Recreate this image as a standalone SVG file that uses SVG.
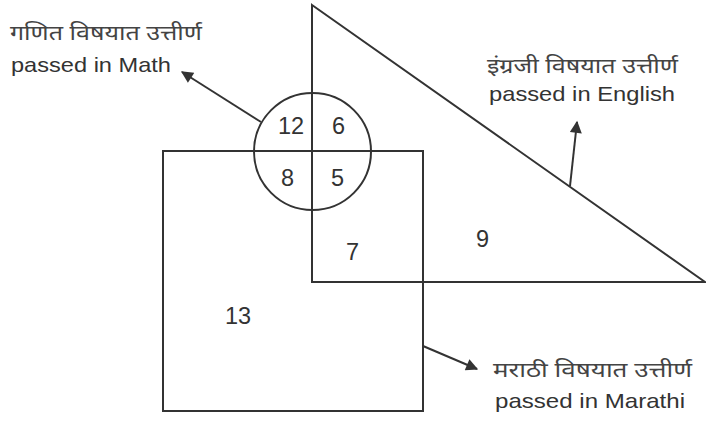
<svg xmlns="http://www.w3.org/2000/svg" width="706" height="423" viewBox="0 0 706 423">
<style>
.shape{fill:none;stroke:#333;stroke-width:2}
.lbl{font-family:"Liberation Sans",Arial,sans-serif;font-size:21px;fill:#333}
.dev{font-family:"Noto Sans Devanagari","Lohit Devanagari","Noto Sans",sans-serif;font-size:20px;font-weight:normal;fill:#444}
.num{font-family:"Liberation Sans",Arial,sans-serif;font-size:23.5px;fill:#333}
.conn{stroke:#333;stroke-width:2;fill:none;marker-end:url(#ah)}
</style>
<defs>
<marker id="ah" viewBox="0 0 10 10" refX="9" refY="5" markerWidth="7" markerHeight="6" orient="auto" markerUnits="strokeWidth">
<path d="M0,0 L10,5 L0,10 z" fill="#333"/>
</marker>
</defs>
<rect width="706" height="423" fill="#fff"/>
<g id="english-set">
<path class="shape" d="M312,5 L705,282 L312,282 Z"/>
</g>
<g id="marathi-set">
<rect class="shape" x="163" y="151" width="260" height="260"/>
</g>
<g id="math-set">
<circle class="shape" cx="312.5" cy="151.5" r="58.5"/>
</g>
<g id="regions">
<text class="num" x="278" y="134">12</text>
<text class="num" x="332" y="134">6</text>
<text class="num" x="281" y="186">8</text>
<text class="num" x="331" y="186">5</text>
<text class="num" x="225" y="324">13</text>
<text class="num" x="346" y="260">7</text>
<text class="num" x="476" y="247">9</text>
</g>
<g id="label-math">
<text class="dev" x="10" y="40" textLength="192" lengthAdjust="spacingAndGlyphs">गणित विषयात उत्तीर्ण</text>
<text class="lbl" x="11" y="72" textLength="160" lengthAdjust="spacingAndGlyphs">passed in Math</text>
</g>
<g id="label-english">
<text class="dev" x="487" y="73" textLength="191" lengthAdjust="spacingAndGlyphs">इंग्रजी विषयात उत्तीर्ण</text>
<text class="lbl" x="489" y="101" textLength="186" lengthAdjust="spacingAndGlyphs">passed in English</text>
</g>
<g id="label-marathi">
<text class="dev" x="493" y="377" textLength="199" lengthAdjust="spacingAndGlyphs">मराठी विषयात उत्तीर्ण</text>
<text class="lbl" x="495" y="408" textLength="190" lengthAdjust="spacingAndGlyphs">passed in Marathi</text>
</g>
<g id="connectors">
<line class="conn" x1="261" y1="122" x2="182" y2="72"/>
<line class="conn" x1="570" y1="186" x2="577" y2="122"/>
<line class="conn" x1="423" y1="346" x2="477" y2="369"/>
</g>
</svg>
